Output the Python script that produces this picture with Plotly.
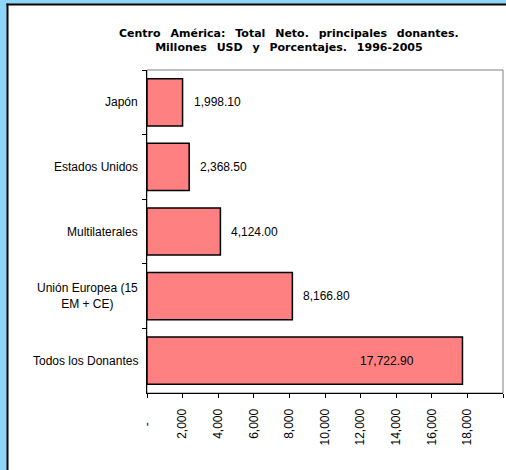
import plotly.graph_objects as go

categories = ["Japón", "Estados Unidos", "Multilaterales", "Unión Europea (15<br>EM + CE)", "Todos los Donantes"]
values = [1998.10, 2368.50, 4124.00, 8166.80, 17722.90]
value_labels = ["1,998.10", "2,368.50", "4,124.00", "8,166.80", "17,722.90"]
x_tickvals = [0, 2000, 4000, 6000, 8000, 10000, 12000, 14000, 16000, 18000, 20000]
x_ticktext = ["-\u00a0\u00a0\u00a0\u00a0", "2,000", "4,000", "6,000", "8,000", "10,000", "12,000", "14,000", "16,000", "18,000", "20,000"]
title_lines = ["Centro\u00a0\u00a0\u2009América:\u00a0\u00a0\u2009Total\u00a0\u00a0\u2009Neto.\u00a0\u00a0\u2009principales\u00a0\u00a0\u2009donantes.",
               "Millones\u00a0\u00a0\u2009USD\u00a0\u00a0\u2009y\u00a0\u00a0\u2009Porcentajes.\u00a0\u00a0\u20091996-2005"]

W, H = 506, 470
L, R, T, B = 147, 3, 70, 77
pw, ph = W - L - R, H - T - B

fig = go.Figure()
fig.add_trace(go.Bar(
    y=categories, x=values, orientation="h",
    marker=dict(color="#FF8080", line=dict(color="#000000", width=1.5)),
    width=0.73, hoverinfo="skip",
))

font = "Liberation Sans, Arial, Helvetica, sans-serif"


def px_x(p):
    return (p - L) / pw


def px_y(p):
    return (H - B - p) / ph


annotations = []
for i, (c, v, lab) in enumerate(zip(categories, values, value_labels)):
    last = i == len(values) - 1
    annotations.append(dict(
        x=v, y=c, xref="x", yref="y", text=lab, showarrow=False,
        xanchor="right" if last else "left", xshift=-46 if last else 9,
        font=dict(family=font, size=12, color="#000000"),
    ))
    annotations.append(dict(
        x=0, y=c, xref="paper", yref="y", text=c, showarrow=False,
        xanchor="right", xshift=-7, align="center",
        font=dict(family=font, size=12, color="#000000"),
    ))
annotations.append(dict(
    x=px_x(289), y=px_y(25), xref="paper", yref="paper", text="<br>".join(title_lines),
    showarrow=False, xanchor="center", yanchor="top", align="center",
    font=dict(family="DejaVu Sans, sans-serif", size=11, color="#000000", weight="bold"),
))

shapes = [
    dict(type="rect", xref="paper", yref="paper", layer="below",
         x0=px_x(8), x1=px_x(600), y0=px_y(600), y1=px_y(5),
         fillcolor="#FFFFFF", line=dict(width=0)),
    dict(type="line", xref="paper", yref="paper", layer="below",
         x0=px_x(7.5), x1=px_x(7.5), y0=px_y(600), y1=px_y(3.5),
         line=dict(color="#000000", width=2)),
    dict(type="line", xref="paper", yref="paper", layer="below",
         x0=px_x(6.5), x1=px_x(600), y0=px_y(4.5), y1=px_y(4.5),
         line=dict(color="#000000", width=2)),
    dict(type="rect", xref="paper", yref="paper", layer="below",
         x0=0, x1=1, y0=0, y1=1, fillcolor="rgba(0,0,0,0)",
         line=dict(color="#808080", width=1)),
]

fig.update_layout(
    width=W, height=H,
    margin=dict(l=L, r=R, t=T, b=B, autoexpand=False),
    paper_bgcolor="#8ED6F7",
    plot_bgcolor="#FFFFFF",
    showlegend=False,
    bargap=0.27,
    annotations=annotations,
    shapes=shapes,
    font=dict(family=font, size=12, color="#000000"),
)
fig.update_xaxes(
    range=[0, 20000], tickvals=x_tickvals, ticktext=x_ticktext, tickangle=-90,
    showgrid=False, zeroline=False, showline=True, linecolor="#000000", linewidth=1,
    ticks="outside", ticklen=4, tickcolor="#000000", tickwidth=1, automargin=False,
    tickfont=dict(family=font, size=12, color="#000000"), ticklabelstandoff=6,
)
fig.update_yaxes(
    autorange="reversed", showgrid=False, zeroline=False, showline=True, automargin=False,
    linecolor="#000000", linewidth=1, ticks="outside", ticklen=4, tickcolor="#000000",
    tickson="boundaries", showticklabels=False,
)

fig.write_html(
    "out.html",
    config={"displayModeBar": False},
    post_script="document.body.style.margin='0';document.body.style.overflow='hidden';",
)
